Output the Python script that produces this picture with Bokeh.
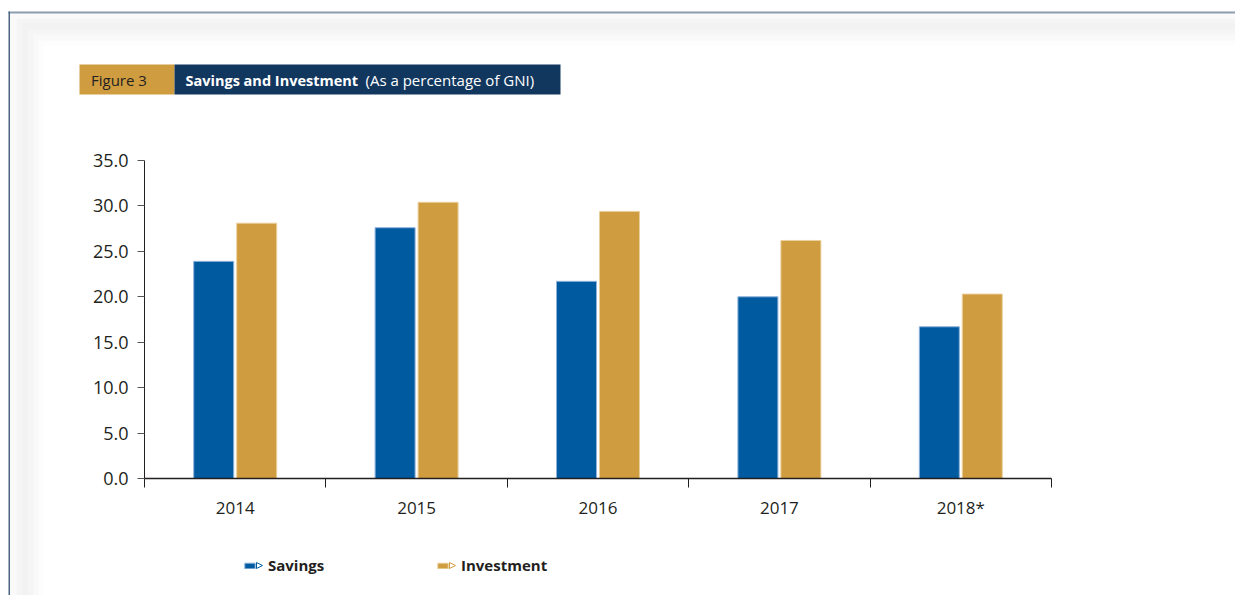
import numpy as np
from bokeh.plotting import figure
from bokeh.models import (Range1d, FixedTicker, NumeralTickFormatter, Label, Legend, LegendItem)
from bokeh.embed import file_html
from bokeh.resources import INLINE

# ---- data ----
years = ["2014", "2015", "2016", "2017", "2018*"]
savings = [23.9, 27.6, 21.7, 20.0, 16.7]
investment = [28.1, 30.4, 29.4, 26.2, 20.3]
y_ticks = [0, 5, 10, 15, 20, 25, 30, 35]
series_names = ["Savings", "Investment"]
title_tag = "Figure 3"
title_main = "Savings and Investment"
title_sub = "(As a percentage of GNI)"

BLUE = "#005AA0"
GOLD = "#D09C40"
NAVY = "#12375F"
TXT = "#231f20"
FONT = "Open Sans"
LINE_TOP = "#8c9db0"
LINE_LEFT = "#4a6482"

W, H = 1235, 595
n = len(years)

# pixel geometry of the plotting area inside the canvas
X0, X1 = 144, 1051       # category axis extent
Y0, Y1 = 478, 160        # value 0 and value 35
YMAX = 35
kx = (X1 - X0) / n
ky = (Y0 - Y1) / YMAX


def dx(px):
    return (px - X0) / kx


def dy(py):
    return (Y0 - py) / ky


p = figure(width=W, height=H, output_backend="svg", toolbar_location=None,
           x_range=Range1d(dx(0), dx(W)), y_range=Range1d(dy(H), dy(0)),
           min_border=0)
p.outline_line_color = None
p.xgrid.visible = False
p.ygrid.visible = False
p.background_fill_color = "white"
p.border_fill_color = "white"

# ---- card: shadow and frame lines ----
shades = [(9.5, 13, "#fafafa"), (16, 18, "#f5f5f5"), (22, 23, "#f2f2f2"),
          (28, 29, "#f5f5f5"), (33, 34, "#f9f9f9"), (38, 40, "#fdfdfd"),
          (43, 45, "#ffffff")]
for lx, ty, c in shades:
    p.quad(left=[dx(lx)], right=[dx(W + 20)], top=[dy(ty)], bottom=[dy(H + 20)],
           fill_color=c, line_color=None)
p.quad(left=[dx(8)], right=[dx(W + 20)], top=[dy(11)], bottom=[dy(13)],
       fill_color=LINE_TOP, line_color=None)
p.quad(left=[dx(8)], right=[dx(9.5)], top=[dy(11)], bottom=[dy(H + 20)],
       fill_color=LINE_LEFT, line_color=None)

# ---- title banner ----
p.quad(left=[dx(79)], right=[dx(174)], top=[dy(64)], bottom=[dy(94)],
       fill_color=GOLD, line_color=None)
p.quad(left=[dx(174)], right=[dx(560)], top=[dy(64)], bottom=[dy(94)],
       fill_color=NAVY, line_color=None)
p.add_layout(Label(x=dx(90.5), y=dy(79.5), text=title_tag, text_baseline="middle",
                   text_font=FONT, text_font_size="15px", text_color=TXT))
p.add_layout(Label(x=dx(185), y=dy(79.5), text=title_main, text_baseline="middle",
                   text_font=FONT, text_font_size="14.5px", text_font_style="bold",
                   text_color="white"))
p.add_layout(Label(x=dx(365), y=dy(79.5), text=title_sub, text_baseline="middle",
                   text_font=FONT, text_font_size="15px", text_color="white"))

# ---- bars ----
centers = np.arange(n) + 0.5
off = 0.1185
bw = 0.2205
r_sav = p.vbar(x=centers - off, top=savings, bottom=0, width=bw,
               fill_color=BLUE, line_color="#8fb3dc", line_width=1)
r_inv = p.vbar(x=centers + off, top=investment, bottom=0, width=bw,
               fill_color=GOLD, line_color="#ead09c", line_width=1)

# ---- axes (drawn inside the canvas at fixed positions) ----
xa = p.xaxis[0]
xa.fixed_location = 0
xa.bounds = (0, n)
xa.ticker = FixedTicker(ticks=list(centers), minor_ticks=list(range(n + 1)))
xa.major_label_overrides = {float(c): y for c, y in zip(centers, years)}
xa.axis_line_color = TXT
xa.axis_line_width = 1.6
xa.major_tick_line_color = None
xa.major_tick_out = 0
xa.major_tick_in = 0
xa.minor_tick_line_color = TXT
xa.minor_tick_out = 9
xa.minor_tick_in = 0
xa.major_label_standoff = 8
xa.major_label_text_font = FONT
xa.major_label_text_font_size = "17px"
xa.major_label_text_color = TXT

ya = p.yaxis[0]
ya.fixed_location = 0
ya.bounds = (0, YMAX)
ya.ticker = FixedTicker(ticks=y_ticks, minor_ticks=[])
ya.formatter = NumeralTickFormatter(format="0.0")
ya.axis_line_color = TXT
ya.axis_line_width = 1
ya.major_tick_line_color = "#555555"
ya.major_tick_out = 7
ya.major_tick_in = 0
ya.minor_tick_line_color = None
ya.major_label_standoff = 9
ya.major_label_text_font = FONT
ya.major_label_text_font_size = "18px"
ya.major_label_text_color = TXT

# ---- legend ----
leg_colors = [(BLUE, r_sav), (GOLD, r_inv)]
leg_x = [243, 436]
for name, (fc, r), lx in zip(series_names, leg_colors, leg_x):
    bx = lx + 13
    p.patch(x=[dx(bx), dx(bx + 6), dx(bx)], y=[dy(562), dy(565), dy(568)],
            fill_color="white", line_color=fc, line_width=1)
    leg = Legend(items=[LegendItem(label=name, renderers=[r])],
                 location=(lx, H - 575), orientation="horizontal",
                 padding=0, margin=0, spacing=0, label_standoff=12,
                 glyph_width=13, glyph_height=7,
                 background_fill_alpha=0, border_line_color=None,
                 label_text_font=FONT, label_text_font_size="15px",
                 label_text_font_style="bold", label_text_color=TXT)
    p.add_layout(leg)

open("out.html", "w").write(file_html(p, INLINE))
